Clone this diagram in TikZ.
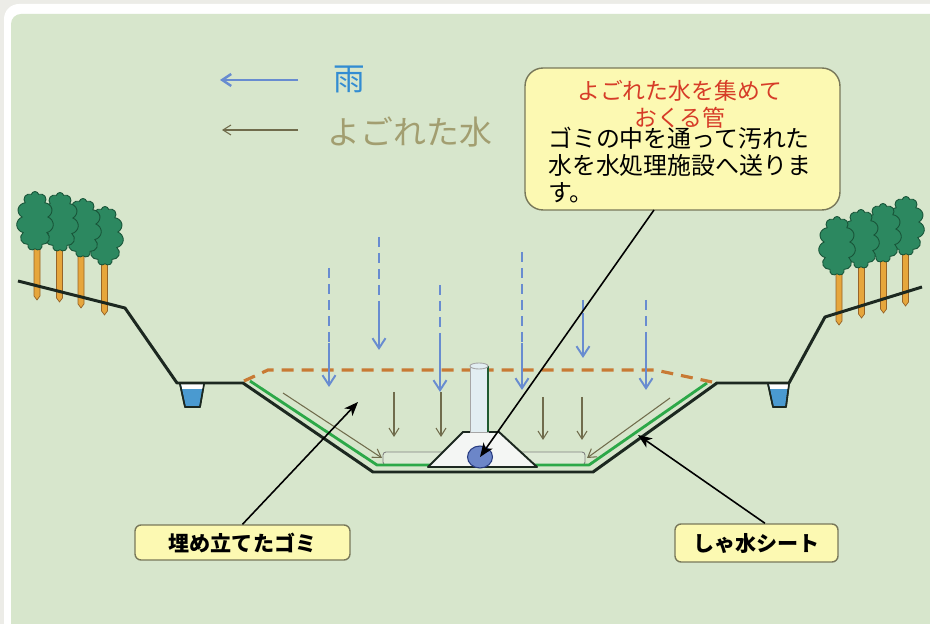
\documentclass[tikz,border=0pt]{standalone}
\usepackage{fontspec}
\usepackage{tikz}
\usetikzlibrary{shapes.symbols, shapes.geometric, arrows.meta}
\newfontfamily\jp{Noto Sans CJK JP}
\definecolor{paper}{RGB}{236,236,231}
\definecolor{panel}{RGB}{215,230,204}
\definecolor{rainblue}{RGB}{104,140,208}
\definecolor{keyblue}{RGB}{50,140,210}
\definecolor{mudline}{RGB}{112,108,76}
\definecolor{mudtext}{RGB}{162,158,112}
\definecolor{sheetgreen}{RGB}{44,168,72}
\definecolor{wasteorange}{RGB}{200,122,52}
\definecolor{soil}{RGB}{28,40,32}
\definecolor{crownfill}{RGB}{44,136,96}
\definecolor{crownedge}{RGB}{24,84,56}
\definecolor{trunkfill}{RGB}{230,166,60}
\definecolor{trunkedge}{RGB}{150,100,40}
\definecolor{notefill}{RGB}{252,249,178}
\definecolor{noteedge}{RGB}{120,120,90}
\definecolor{titlered}{RGB}{214,60,40}
\definecolor{ditchblue}{RGB}{74,154,208}
\definecolor{sumpblue}{RGB}{108,134,200}
\definecolor{sumpedge}{RGB}{40,60,128}
\definecolor{pipewhite}{RGB}{226,238,242}
\definecolor{pipegreen}{RGB}{30,90,48}
\definecolor{concrete}{RGB}{244,246,244}
\definecolor{drain}{RGB}{222,234,214}

\begin{document}
\begin{tikzpicture}
    [
        x=0.02cm, y=-0.02cm,
        ground/.style = {draw=soil, line width=1.7pt, line join=round},
        sheet/.style = {draw=sheetgreen, line width=1.6pt, line join=round},
        wastetop/.style = {draw=wasteorange, line width=1.8pt, dash pattern=on 0.24cm off 0.16cm},
        rain/.style = {draw=rainblue, line width=1.1pt},
        raintip/.style = {-{Straight Barb[length=0.2cm, width=0.26cm]}},
        mud/.style = {draw=mudline, line width=0.6pt, -{Straight Barb[length=0.16cm, width=0.2cm]}},
        leader/.style = {draw=black, line width=0.9pt, -{Stealth[length=0.28cm, width=0.22cm, inset=0.08cm]}},
        crown/.style = {cloud, cloud puffs=11, cloud ignores aspect, minimum width=0.74cm, minimum height=1.18cm, draw=crownedge, fill=crownfill, line width=0.5pt, inner sep=0pt},
        trunk/.style = {fill=trunkfill, draw=trunkedge, line width=0.4pt},
        ditch/.style = {fill=ditchblue, draw=soil, line width=0.9pt, line join=round},
        sump/.style = {ellipse, minimum width=0.5cm, minimum height=0.44cm, fill=sumpblue, draw=sumpedge, line width=0.6pt},
        note/.style = {draw=noteedge, fill=notefill, rounded corners=0.36cm, line width=0.8pt, minimum width=6.3cm, minimum height=2.84cm},
        tag/.style = {draw=noteedge, fill=notefill, rounded corners=0.12cm, line width=0.8pt, font=\jp\bfseries\fontsize{12}{14}\selectfont},
    ]

    \useasboundingbox (0,0) rectangle (930,624);
    \fill[paper] (0,0) rectangle (930,624);
    \fill[white, rounded corners=0.3cm] (4,4) rectangle (950,650);
    \fill[panel, rounded corners=0.2cm] (11,14) rectangle (950,650);

    \foreach \cx/\cy/\tx/\tb in {105/236/104.5/315, 83/228/81/308, 60/222/59.5/302, 35/221/37/300,
                                 906/226/905.5/306, 883/233/883.5/313, 861/239/861.5/318, 837/246/839/325}
    {
        \filldraw[trunk] ({\tx-3},\cy) -- ({\tx-3},{\tb-4}) -- (\tx,\tb) -- ({\tx+3},{\tb-4}) -- ({\tx+3},\cy) -- cycle;
    }
    \foreach \cx/\cy in {105/236, 83/228, 60/222, 35/221, 906/226, 883/233, 861/239, 837/246}
    {
        \node[crown] (crown\cx) at (\cx,\cy) {};
    }

    \filldraw[ditch] (180,384) -- (185,407) -- (200,407) -- (204,384) -- cycle;
    \fill[white] (181,384) -- (182.3,389) -- (202.7,389) -- (203,384) -- cycle;
    \filldraw[ditch] (768,384) -- (773,407) -- (786,407) -- (789,384) -- cycle;
    \fill[white] (769,384) -- (770.3,389) -- (787.7,389) -- (788,384) -- cycle;
    \draw[soil, line width=0.9pt, line join=round] (180,384) -- (185,407) -- (200,407) -- (204,384);
    \draw[soil, line width=0.9pt, line join=round] (768,384) -- (773,407) -- (786,407) -- (789,384);

    \draw[draw=gray, fill=drain, line width=0.5pt, rounded corners=0.06cm] (383,452) rectangle (585,465);

    \draw[sheet] (250,381) -- (377,465) -- (589,465) -- (707,383);
    \draw[ground] (18,281) -- (125,308) -- (177,383) -- (243,383) -- (373,472) -- (593,472) -- (717,383) -- (789,383) -- (825,317) -- (922,287);
    \draw[wastetop] (244,381) -- (268,370) -- (655,370) -- (712,382);

    \foreach \x/\top/\mid/\tip in {329/268/343/387, 379/237/305/350, 440/285/343/392, 522/252/343/390, 583/300/313/358, 646/300/340/390}
    {
        \draw[rain, dash pattern=on 0.2cm off 0.12cm] (\x,\top) -- (\x,\mid);
        \draw[rain, raintip] (\x,\mid) -- (\x,\tip);
    }

    \draw[fill=concrete, draw=soil, line width=1.1pt, line join=round] (428,467) -- (463,432) -- (499,432) -- (537,467) -- cycle;
    \draw[fill=pipewhite, draw=gray!70, line width=0.5pt] (470,366) rectangle (488,432);
    \draw[pipegreen, line width=1.4pt] (488,366) -- (488,432);
    \draw[fill=pipewhite, draw=gray!70, line width=0.5pt] (479,366) ellipse [x radius=0.18cm, y radius=0.06cm];
    \node[sump] (sump) at (480,457) {};

    \foreach \x/\top/\tip in {394/392/437, 441/392/437, 543/397/440, 582/397/440}
    {
        \draw[mud] (\x,\top) -- (\x,\tip);
    }
    \draw[mud] (283,393) -- (382,458);
    \draw[mud] (670,398) -- (587,458);

    \node[note] (pipenote) at (682.5,139) {};
    \node[font=\jp\fontsize{13}{15.3}\selectfont, text=titlered, align=center] (pipetitle) at (680,104) {よごれた水を集めて\\おくる管};
    \node[font=\jp\fontsize{13.6}{15.3}\selectfont, align=left, anchor=west] (pipetext) at (542,165) {ゴミの中を通って汚れた\\水を水処理施設へ送りま\\す。};

    \node[tag, minimum width=4.3cm, minimum height=0.7cm] (wastetag) at (242.5,542.5) {埋め立てたゴミ};
    \node[tag, minimum width=3.26cm, minimum height=0.76cm] (sheettag) at (756.5,543) {しゃ水シート};

    \coordinate (pipefoot) at (654,210);
    \coordinate (wastepoint) at (358,402);
    \coordinate (sheetpoint) at (638,435);
    \draw[leader] (pipefoot) -- (sump.center);
    \draw[leader] (wastetag.north) -- (wastepoint);
    \draw[leader] ([xshift=0.17cm]sheettag.north) -- (sheetpoint);

    \node[font=\jp\fontsize{18}{20}\selectfont, text=keyblue] (rainkey) at (349,79) {雨};
    \node[font=\jp\fontsize{18.7}{20}\selectfont, text=mudtext] (mudkey) at (410,132) {よごれた水};
    \coordinate (raintail) at (298,80);
    \coordinate (rainhead) at (220,80);
    \coordinate (mudtail) at (298,130);
    \coordinate (mudhead) at (222,130);
    \draw[rain, line width=1.4pt, -{Straight Barb[length=0.18cm, width=0.24cm]}] (raintail) -- (rainhead);
    \draw[mud] (mudtail) -- (mudhead);
\end{tikzpicture}
\end{document}
